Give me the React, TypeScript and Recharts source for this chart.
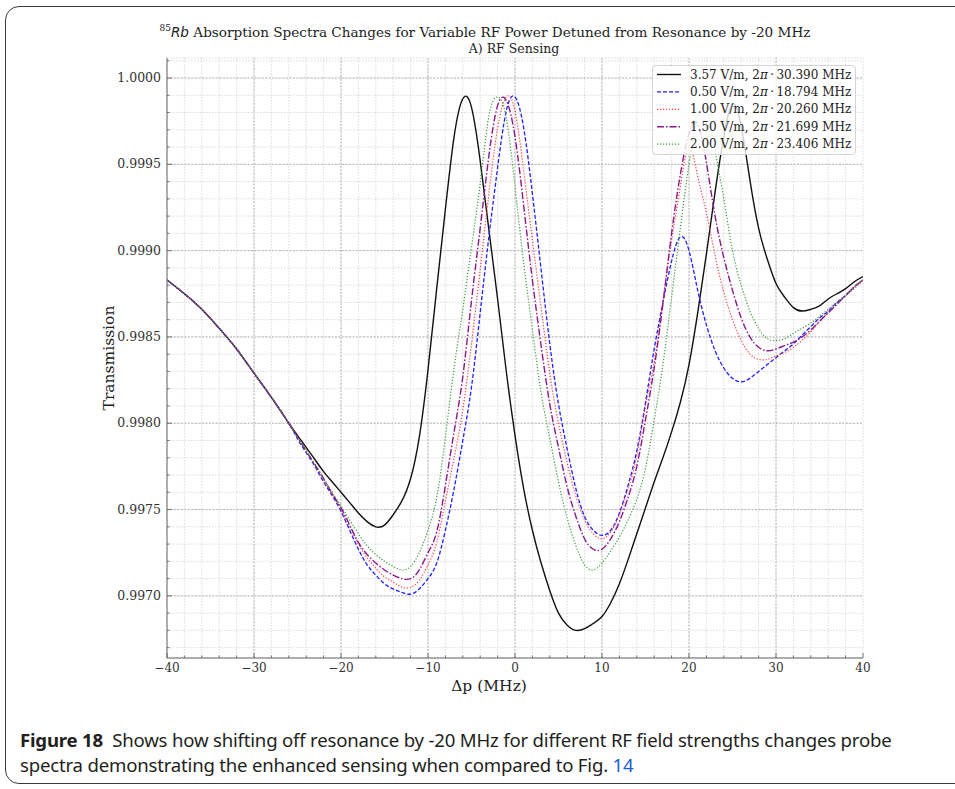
import { CartesianGrid, Line, LineChart, ReferenceLine, XAxis, YAxis } from "recharts"

// probe detuning (MHz)
const detuning = [
  -40, -38, -36, -34, -32, -30, -28, -26,
  -25, -24, -23, -22, -21, -20, -19, -18, -17, -16,
  -15, -14, -13, -12, -11, -10, -9, -8, -7, -6,
  -5, -4, -3, -2, -1, 0, 1, 2, 3, 4,
  5, 6, 7, 8, 9, 10, 11, 12, 13, 14,
  15, 16, 17, 18, 19, 20, 21, 22, 23, 24,
  25, 26, 27, 28, 29, 30, 31, 32, 33, 34,
  35, 36, 37, 38, 39, 40,
]

// 3.57 V/m
const field357 = [
  0.99883, 0.99875, 0.99866, 0.99855, 0.99843, 0.99829, 0.99815, 0.998,
  0.99793, 0.99786, 0.99779, 0.99772, 0.99766, 0.9976, 0.99754, 0.99748, 0.99743, 0.9974,
  0.99741, 0.99747, 0.99755, 0.99768, 0.99792, 0.99831, 0.99878, 0.99924, 0.99966, 0.99988,
  0.99983, 0.99952, 0.99912, 0.99872, 0.9983, 0.99793, 0.99762, 0.99738, 0.99719, 0.99703,
  0.9969, 0.99683, 0.9968, 0.99681, 0.99684, 0.99688, 0.99696, 0.99707, 0.99721, 0.99736,
  0.99751, 0.99766, 0.9978, 0.99795, 0.99812, 0.99834, 0.99864, 0.99898, 0.99934, 0.99966,
  0.99985, 0.99972, 0.99941, 0.99913, 0.99895, 0.99881, 0.99873, 0.99867, 0.99865, 0.99866,
  0.99868, 0.99872, 0.99875, 0.99878, 0.99882, 0.99885,
]

// 0.50 V/m
const field050 = [
  0.99883, 0.99875, 0.99866, 0.99855, 0.99843, 0.99829, 0.99815, 0.998,
  0.99791, 0.99783, 0.99775, 0.99766, 0.99758, 0.99749, 0.99738, 0.99727, 0.99718, 0.99712,
  0.99707, 0.99704, 0.99702, 0.99701, 0.99704, 0.9971, 0.99719, 0.99738, 0.99762, 0.9979,
  0.99821, 0.99864, 0.99908, 0.99948, 0.99981, 0.99989, 0.99971, 0.99933, 0.99889, 0.99846,
  0.99811, 0.99785, 0.99762, 0.99746, 0.99738, 0.99735, 0.99738, 0.99748, 0.99764, 0.99784,
  0.99812, 0.99843, 0.9987, 0.99894, 0.99908, 0.999, 0.99877, 0.99857, 0.99842, 0.99832,
  0.99826, 0.99824, 0.99826, 0.9983, 0.99834, 0.99838, 0.99842, 0.99846, 0.99851, 0.99856,
  0.99861, 0.99865, 0.9987, 0.99874, 0.99879, 0.99883,
]

// 1.00 V/m
const field100 = [
  0.99883, 0.99875, 0.99866, 0.99855, 0.99843, 0.99829, 0.99815, 0.998,
  0.99792, 0.99784, 0.99776, 0.99767, 0.99759, 0.9975, 0.9974, 0.9973, 0.99722, 0.99716,
  0.99711, 0.99708, 0.99705, 0.99705, 0.99709, 0.99718, 0.99731, 0.99755, 0.9978, 0.99808,
  0.99846, 0.99889, 0.99933, 0.99971, 0.99989, 0.99981, 0.99946, 0.99906, 0.99867, 0.99829,
  0.998, 0.99777, 0.99758, 0.99744, 0.99736, 0.99733, 0.99737, 0.99747, 0.99762, 0.99781,
  0.9981, 0.99836, 0.99871, 0.99906, 0.99937, 0.9996, 0.99943, 0.99922, 0.99897, 0.99876,
  0.9986, 0.99848, 0.9984, 0.99837, 0.99837, 0.99839, 0.99841, 0.99844, 0.99848, 0.99853,
  0.99859, 0.99864, 0.99869, 0.99874, 0.99878, 0.99883,
]

// 1.50 V/m
const field150 = [
  0.99883, 0.99875, 0.99866, 0.99855, 0.99843, 0.99829, 0.99815, 0.998,
  0.99792, 0.99784, 0.99776, 0.99768, 0.99759, 0.99751, 0.99741, 0.99731, 0.99724, 0.99719,
  0.99715, 0.99712, 0.9971, 0.9971, 0.99715, 0.99725, 0.99737, 0.99764, 0.99795, 0.99827,
  0.99871, 0.99913, 0.99955, 0.99984, 0.99987, 0.99966, 0.99926, 0.99883, 0.99845, 0.99811,
  0.99786, 0.99763, 0.99746, 0.99733, 0.99727, 0.99727, 0.99733, 0.99743, 0.99757, 0.99775,
  0.99802, 0.99832, 0.99869, 0.9991, 0.99944, 0.99968, 0.99973, 0.99951, 0.9992, 0.99896,
  0.99877, 0.99861, 0.9985, 0.99844, 0.99842, 0.99843, 0.99845, 0.99847, 0.9985, 0.99854,
  0.99859, 0.99864, 0.99869, 0.99874, 0.99879, 0.99883,
]

// 2.00 V/m
const field200 = [
  0.99883, 0.99875, 0.99866, 0.99855, 0.99843, 0.99829, 0.99815, 0.998,
  0.99792, 0.99784, 0.99776, 0.99768, 0.9976, 0.99752, 0.99744, 0.99736, 0.99729, 0.99724,
  0.9972, 0.99717, 0.99715, 0.99717, 0.99725, 0.99738, 0.99757, 0.99792, 0.99832, 0.99866,
  0.99902, 0.99939, 0.99978, 0.99989, 0.99977, 0.99937, 0.99893, 0.99854, 0.99818, 0.99791,
  0.99766, 0.99745, 0.99729, 0.99718, 0.99715, 0.99719, 0.99726, 0.99734, 0.99744, 0.99756,
  0.99774, 0.99802, 0.99834, 0.99873, 0.99913, 0.9995, 0.99978, 0.99982, 0.99958, 0.9993,
  0.999, 0.9988, 0.99865, 0.99855, 0.99849, 0.99848, 0.99849, 0.99852, 0.99855, 0.99858,
  0.99862, 0.99866, 0.9987, 0.99874, 0.99879, 0.99883,
]

const fieldLabels = ["3.57 V/m", "0.50 V/m", "1.00 V/m", "1.50 V/m", "2.00 V/m"]
const rabiLabels = ["30.390 MHz", "18.794 MHz", "20.260 MHz", "21.699 MHz", "23.406 MHz"]

const xMajorTicks = [-40, -30, -20, -10, 0, 10, 20, 30, 40]
const yMajorTicks = [0.997, 0.9975, 0.998, 0.9985, 0.999, 0.9995, 1.0]

const serif = "'DejaVu Serif', serif"

const series = [
  { key: "f357", color: "#111111", dash: undefined, width: 1.4 },
  { key: "f050", color: "#1f1fff", dash: "4 2", width: 1.3 },
  { key: "f100", color: "#ff3b3b", dash: "1.2 1.8", width: 1.2 },
  { key: "f150", color: "#8a1a8a", dash: "7 2 1.5 2", width: 1.4 },
  { key: "f200", color: "#3a9a3a", dash: "1.2 1.8", width: 1.2 },
]

// minor ticks: every 2 MHz on x, every 1e-4 on y
const xMinorTicks: number[] = []
for (let v = -40; v <= 40; v += 2) xMinorTicks.push(v)
const yMinorTicks: number[] = []
for (let k = 9967; k <= 10001; k++) yMinorTicks.push(k / 10000)

const isYMajor = (v: number) => Math.round(v * 10000) % 5 === 0
const fmtX = (v: number) => (v < 0 ? `\u2212${-v}` : `${v}`)

const BottomTick = (props: any) => {
  const { x, y, payload } = props
  const v = payload.value
  const major = v % 10 === 0
  return (
    <g>
      <line x1={x} x2={x} y1={y} y2={y - (major ? 5 : 2.5)} stroke="#555" strokeWidth={0.8} />
      {major && (
        <text x={x} y={y + 14} textAnchor="middle" fontFamily={serif} fontSize={12} fill="#333">
          {fmtX(v)}
        </text>
      )}
    </g>
  )
}

const TopTick = (props: any) => {
  const { x, y, payload } = props
  const major = payload.value % 10 === 0
  return <line x1={x} x2={x} y1={y} y2={y + (major ? 5 : 2.5)} stroke="#555" strokeWidth={0.8} />
}

const LeftTick = (props: any) => {
  const { x, y, payload } = props
  const v = payload.value
  const major = isYMajor(v)
  return (
    <g>
      <line x1={x} x2={x + (major ? 5 : 2.5)} y1={y} y2={y} stroke="#555" strokeWidth={0.8} />
      {major && (
        <text x={x - 6} y={y + 4} textAnchor="end" fontFamily={serif} fontSize={12.5} fill="#333">
          {v.toFixed(4)}
        </text>
      )}
    </g>
  )
}

const RightTick = (props: any) => {
  const { x, y, payload } = props
  const major = isYMajor(payload.value)
  return <line x1={x} x2={x - (major ? 5 : 2.5)} y1={y} y2={y} stroke="#555" strokeWidth={0.8} />
}

const Legend = () => (
  <div
    style={{
      position: "absolute",
      left: 652,
      top: 65,
      width: 204,
      height: 90,
      background: "rgba(255,255,255,0.8)",
      border: "1px solid #d4d4d4",
      borderRadius: 4,
      boxSizing: "border-box",
    }}
  >
    <svg width={204} height={90} style={{ position: "absolute", left: -1, top: -1 }}>
      {series.map((s, i) => {
        const cy = 9.5 + i * 17.4
        return (
          <g key={s.key}>
            <line x1={5} x2={29} y1={cy} y2={cy} stroke={s.color} strokeWidth={s.width} strokeDasharray={s.dash} />
            <text x={38} y={cy + 4} fontFamily={serif} fontSize={12} fill="#222">
              {fieldLabels[i]}, 2<tspan fontStyle="italic">π</tspan>
              {"\u2009·\u2009"}
              {rabiLabels[i]}
            </text>
          </g>
        )
      })}
    </svg>
  </div>
)

export default function App() {
  const rows = detuning.map((x, i) => ({
    x,
    f357: field357[i],
    f050: field050[i],
    f100: field100[i],
    f150: field150[i],
    f200: field200[i],
  }))

  return (
    <div style={{ position: "absolute", left: 0, top: 0, width: 955, height: 789, background: "#fff", overflow: "hidden" }}>
      <div
        style={{
          position: "absolute",
          left: 5,
          top: 6,
          width: 990,
          height: 776,
          border: "1.5px solid #3a3a3a",
          borderRadius: 14,
        }}
      />
      <div
        style={{
          position: "absolute",
          left: 485,
          top: 19,
          transform: "translateX(-50%)",
          whiteSpace: "nowrap",
          fontFamily: serif,
          fontSize: 13.6,
          color: "#222",
          lineHeight: "18px",
        }}
      >
        <sup style={{ fontSize: 9 }}>85</sup>
        <i style={{ fontFamily: "'DejaVu Sans', sans-serif" }}>Rb</i> Absorption Spectra Changes for Variable RF Power
        Detuned from Resonance by -20 MHz
      </div>
      <div
        style={{
          position: "absolute",
          left: 514,
          top: 41,
          transform: "translateX(-50%)",
          whiteSpace: "nowrap",
          fontFamily: serif,
          fontSize: 12.5,
          color: "#222",
          lineHeight: "15px",
        }}
      >
        A) RF Sensing
      </div>

      <div style={{ position: "absolute", left: 0, top: 0 }}>
        <LineChart width={955} height={700} data={rows} margin={{ top: 58, right: 92, bottom: 12, left: 107 }}>
          <CartesianGrid stroke="#d2d2d2" strokeDasharray="1.5 1.5" strokeWidth={0.8} />
          {xMajorTicks.slice(1, -1).map((v) => (
            <ReferenceLine key={`vx${v}`} x={v} stroke="#aaaaaa" strokeDasharray="2 1.5" strokeWidth={0.8} />
          ))}
          {yMajorTicks.map((v) => (
            <ReferenceLine key={`hy${v}`} y={v} stroke="#aaaaaa" strokeDasharray="2 1.5" strokeWidth={0.8} />
          ))}
          <XAxis
            dataKey="x"
            type="number"
            domain={[-40, 40]}
            ticks={xMinorTicks}
            interval={0}
            allowDataOverflow
            height={30}
            tickSize={0}
            tickMargin={0}
            tickLine={false}
            axisLine={{ stroke: "#666" }}
            tick={BottomTick}
          />
          <XAxis
            xAxisId="top"
            orientation="top"
            dataKey="x"
            type="number"
            domain={[-40, 40]}
            ticks={xMinorTicks}
            interval={0}
            allowDataOverflow
            height={0}
            tickSize={0}
            tickMargin={0}
            tickLine={false}
            axisLine={{ stroke: "#666" }}
            tick={TopTick}
          />
          <YAxis
            type="number"
            domain={[0.99664, 1.000116]}
            ticks={yMinorTicks}
            interval={0}
            allowDataOverflow
            width={60}
            tickSize={0}
            tickMargin={0}
            tickLine={false}
            axisLine={{ stroke: "#666" }}
            tick={LeftTick}
          />
          <YAxis
            yAxisId="right"
            orientation="right"
            type="number"
            domain={[0.99664, 1.000116]}
            ticks={yMinorTicks}
            interval={0}
            allowDataOverflow
            width={0}
            tickSize={0}
            tickMargin={0}
            tickLine={false}
            axisLine={{ stroke: "#666" }}
            tick={RightTick}
          />
          {series.map((s) => (
            <Line
              key={s.key}
              dataKey={s.key}
              type="natural"
              stroke={s.color}
              strokeWidth={s.width}
              strokeDasharray={s.dash}
              dot={false}
              activeDot={false}
              isAnimationActive={false}
            />
          ))}
        </LineChart>
      </div>

      <Legend />

      <div
        style={{
          position: "absolute",
          left: 109,
          top: 358,
          transform: "translate(-50%, -50%) rotate(-90deg)",
          whiteSpace: "nowrap",
          fontFamily: serif,
          fontSize: 15.5,
          color: "#222",
        }}
      >
        Transmission
      </div>
      <div
        style={{
          position: "absolute",
          left: 489,
          top: 686,
          transform: "translate(-50%, -50%)",
          whiteSpace: "nowrap",
          fontFamily: serif,
          fontSize: 15.5,
          color: "#222",
        }}
      >
        Δp (MHz)
      </div>

      <div
        style={{
          position: "absolute",
          left: 20,
          top: 727,
          fontFamily: "'Noto Sans', sans-serif",
          fontSize: 18.6,
          lineHeight: "25px",
          color: "#231f20",
          whiteSpace: "nowrap",
          letterSpacing: -0.2,
        }}
      >
        <div>
          <b>Figure 18</b>&nbsp; Shows how shifting off resonance by -20 MHz for different RF field strengths changes probe
        </div>
        <div>
          spectra demonstrating the enhanced sensing when compared to Fig. <span style={{ color: "#1a5fd6" }}>14</span>
        </div>
      </div>
    </div>
  )
}
